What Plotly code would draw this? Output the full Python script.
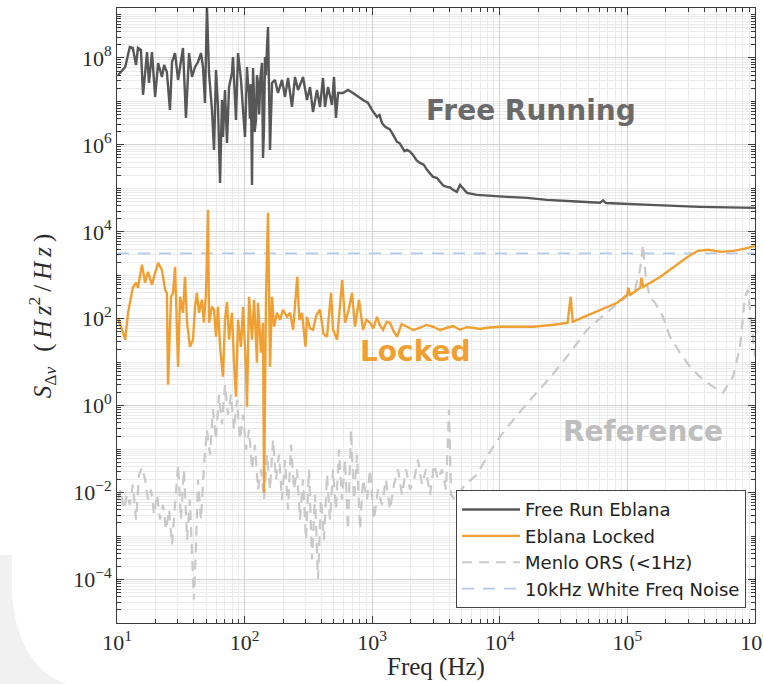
import plotly.graph_objects as go

# ---------------- data ----------------
free_f = [10.2, 11.6, 12.6, 13.3, 14.1, 14.6, 15.4, 16.0, 17.2, 17.8, 18.8, 19.9, 21.0, 22.5, 23.4,
          24.6, 26.0, 27.0, 28.5, 30.1, 32.9, 34.7, 36.7, 38.7, 40.9, 43.1, 45.5, 47.2, 48.9, 50.7,
          52.6, 55.5, 57.6, 59.7, 61.9, 64.2, 66.5, 67.7, 70.2, 72.8, 75.5, 79.6, 81.1, 85.6, 88.8,
          93.7, 97.2, 100.7, 102, 104.4, 106, 108.3, 110, 112, 114.3, 116.4, 118, 120, 122.8, 125,
          127.4, 130, 133, 136.9, 139.4, 142, 144.5, 147, 149.8, 152.6, 158.2, 164.0, 173.1, 182.7,
          196.4, 207.3, 218.9, 235.2, 248.3, 262.1, 281.7, 286.9, 308.3, 325.5, 343.6, 369.3, 389.9,
          411.6, 426.7, 450.5, 484.2, 502, 520, 540, 590, 646, 707, 774, 847, 927, 996, 1090, 1140,
          1193, 1250, 1306, 1370, 1430, 1500, 1564, 1640, 1712, 1790, 1874, 1980, 2088, 2230, 2369,
          2530, 2688, 2840, 2996, 3200, 3399, 3620, 3857, 4080, 4298, 4600, 4876, 5533, 6628, 8379,
          11390, 16340, 23440, 40000, 61000, 64400, 68000, 150400, 370700, 1000000]
free_s = [4.07e7, 6.21e7, 1.79e8, 1.70e8, 6.90e7, 1.70e8, 1.53e8, 1.41e7, 1.37e8, 2.66e7, 1.37e8,
          1.27e7, 7.67e7, 3.66e7, 6.90e7, 4.76e7, 6.38e6, 8.09e7, 1.30e8, 3.12e7, 1.70e8, 4.18e6,
          1.30e8, 3.66e7, 6.21e7, 8.09e7, 1.30e8, 6.21e7, 9.24e6, 1.5e9, 4.52e7, 6.38e6, 7.67e5,
          5.29e7, 7.48e6, 1.34e5, 1.08e7, 1.53e6, 1.84e7, 1.11e6, 2.15e7, 4.52e7, 1.05e8, 3.76e6,
          1.30e8, 3.12e7, 6.38e6, 1.53e6, 5.0e6, 6.21e7, 3.0e7, 1.57e7, 4.0e6, 2.5e7, 1.20e5,
          5.89e7, 2.0e7, 2.0e6, 3.76e6, 4.0e7, 2.66e7, 5.0e6, 3.5e7, 7.67e7, 5.02e5, 2.5e6, 1.05e8,
          4.0e7, 1.79e8, 5.16e8, 7.67e5, 2.66e7, 3.12e7, 1.57e7, 3.12e7, 1.27e7, 3.47e7, 7.48e6,
          3.66e7, 1.84e7, 3.12e7, 3.66e7, 1.08e7, 2.15e7, 5.74e6, 1.84e7, 7.48e6, 3.47e7, 7.48e6,
          2.15e7, 8.32e6, 3.66e7, 4.18e6, 1.57e7, 1.57e7, 1.84e7, 1.57e7, 1.27e7, 1.08e7, 9.24e6,
          6.38e6, 4.41e6, 4.9e6, 3.21e6, 2.7e6, 2.46e6, 2.3e6, 1.89e6, 1.5e6, 1.17e6, 1.1e6, 8.99e5,
          7.2e5, 7.67e5, 7.0e5, 5.89e5, 4.4e5, 3.86e5, 3.5e5, 2.66e5, 2.2e5, 1.84e5, 1.75e5, 1.41e5,
          1.15e5, 1.08e5, 1.05e5, 9.24e4, 8.3e4, 1.2e5, 7.89e4, 7.10e4, 6.73e4, 6.38e4, 6.05e4,
          5.45e4, 5.0e4, 4.65e4, 5.3e4, 4.6e4, 4.18e4, 3.76e4, 3.56e4]

lock_f = [10.2, 11.6, 12.2, 13.3, 14.1, 14.6, 15.7, 16.6, 17.5, 18.8, 19.9, 21.0, 22.5, 23.8, 24.6,
          25.1, 26.5, 27.5, 28.5, 29.5, 30.1, 31.2, 32.9, 34.1, 35.4, 37.3, 39.4, 40.9, 42.3, 43.9,
          46.3, 48.0, 49.8, 51.7, 52.6, 55.5, 57.6, 59.7, 61.9, 64.2, 67.7, 70.2, 72.8, 75.5, 79.6,
          82.6, 85.6, 88.8, 93.7, 97.2, 102.6, 104.4, 108.3, 114.3, 118.6, 125.0, 127.4, 134.4,
          139.4, 142.0, 147.2, 152.6, 158.2, 164.0, 170.0, 179.5, 189.5, 200.0, 215.4, 227.4, 240.0,
          258.6, 268.3, 281.7, 300, 308, 325, 343.6, 365, 389.9, 415, 442.6, 475.6, 493.6, 530.5,
          582, 613, 650, 695, 733, 788, 847, 900, 962, 1020, 1090, 1150, 1216, 1300, 1378, 1470,
          1564, 1700, 1874, 2100, 2369, 2650, 2996, 3400, 3857, 4300, 4876, 5500, 6160, 7000, 7940,
          10040, 13700, 18360, 26400, 34000, 35900, 37300, 45700, 61000, 83100, 99700, 101500,
          105200, 126300, 128600, 133300, 181700, 230300, 297300, 356900, 428600, 542000, 684300,
          884000, 1000000]
lock_s = [105, 32.9, 137, 516, 673, 516, 1743, 673, 1202, 605, 1140, 1936, 1337, 464, 396, 3.04, 321,
          396, 1567, 55.8, 7.89, 321, 137, 925, 80.9, 22.7, 32.9, 189, 396, 137, 273, 80.9, 396,
          32100, 80.9, 189, 161, 38.6, 189, 22.7, 4.64, 94.9, 246, 32.9, 137, 9.75, 1.61, 94.9, 22.7,
          189, 6.73, 0.948, 321, 32.9, 273, 9.75, 233, 16.5, 80.9, 0.01, 321, 27400, 7.89, 321, 65.5,
          137, 94.9, 161, 111, 137, 55.8, 925, 94.9, 137, 22.7, 111, 60, 55.8, 120, 161, 45, 38.6,
          396, 55.8, 32.9, 789, 80.9, 150, 396, 65.5, 273, 55.8, 95, 80.9, 60, 111, 70, 55.8, 85,
          80.9, 52, 38.6, 75, 65.5, 55, 62.1, 72, 65.5, 55, 62.1, 68, 55.8, 64, 62.1, 58, 62.1, 65.5,
          65.5, 65.5, 72.8, 80.9, 321, 85.3, 111, 161, 233, 356, 516, 356, 516, 877, 544, 925, 1567,
          2661, 3656, 3854, 3467, 3656, 4285, 4767]

ref_f = [10.2, 10.7, 11.3, 12.0, 12.6, 13.3, 14.1, 14.9, 15.7, 16.6, 17.5, 18.5, 19.5, 20.6, 21.7,
         22.9, 24.2, 25.6, 27.0, 28.5, 30.1, 31.7, 33.5, 35.4, 37.3, 38.7, 40.1, 41.6, 43.1, 45.5,
         48.1, 50.7, 53.6, 56.5, 59.7, 63.0, 66.5, 70.2, 74.1, 78.3, 82.6, 87.2, 92.0, 97.2, 102.6,
         108.3, 114.3, 120.6, 127.4, 134.4, 142.0, 149.8, 158.2, 167.0, 176.3, 186.1, 196.4, 207.3,
         218.9, 231.0, 243.9, 257.5, 271.8, 286.9, 302.8, 319.7, 337.5, 356.2, 376.0, 396.9, 419.1,
         442.4, 466.9, 492.9, 520.3, 549.3, 579.8, 612.1, 646.2, 682.2, 720.1, 760.2, 802.4, 847.1,
         910.4, 961.1, 1033, 1110, 1193, 1283, 1379, 1482, 1593, 1712, 1840, 1978, 2126, 2285, 2456,
         2640, 2838, 3050, 3279, 3524, 3788, 4000, 4147, 4457, 5338, 6628, 8379, 10040, 13150,
         18200, 24740, 33620, 48250, 73050, 99290, 114700, 125500, 132600, 139900, 150400, 164600,
         190100, 215800, 258400, 309600, 370700, 468700, 561400, 672200, 762800, 835000, 881600,
         947400, 1000000]
ref_s = [6.9e-3, 1.17e-2, 4.1e-3, 9.0e-3, 5.3e-3, 1.53e-2, 2.4e-3, 2.6e-2, 3.8e-2, 2.0e-2, 6.9e-3,
         1.17e-2, 3.1e-3, 9.0e-3, 2.4e-3, 5.3e-3, 1.41e-3, 4.1e-3, 6.4e-4, 6.9e-3, 4.4e-2, 2.4e-3,
         3.4e-2, 8.3e-4, 6.9e-3, 3.8e-4, 3.5e-5, 6.4e-4, 2.0e-2, 2.4e-3, 4.4e-2, 0.28, 7.5e-2, 0.81,
         0.165, 1.79, 0.37, 3.04, 0.62, 1.79, 0.28, 1.37, 0.165, 0.62, 9.7e-2, 0.28, 3.4e-2, 0.127,
         1.17e-2, 3.4e-2, 6.9e-3, 7.5e-2, 1.17e-2, 0.165, 2.0e-2, 7.5e-2, 6.9e-3, 5.7e-2, 4.1e-3,
         0.127, 1.17e-2, 3.4e-2, 2.4e-3, 2.0e-2, 8.3e-4, 3.4e-2, 2.9e-4, 9.0e-3, 1.05e-4, 6.9e-3,
         8.3e-4, 2.6e-2, 2.4e-3, 3.4e-2, 4.1e-3, 9.7e-2, 6.9e-3, 5.7e-2, 1.41e-3, 0.28, 6.9e-3,
         7.5e-2, 1.41e-3, 2.0e-2, 6.9e-3, 3.4e-2, 2.4e-3, 1.17e-2, 5.3e-3, 2.0e-2, 4.1e-3, 1.53e-2,
         3.4e-2, 9.0e-3, 3.4e-2, 1.17e-2, 2.0e-2, 5.7e-2, 1.53e-2, 3.4e-2, 9.0e-3, 4.4e-2, 2.0e-2,
         3.4e-2, 1.17e-2, 0.81, 9.0e-3, 6.9e-3, 1.53e-2, 2.6e-2, 8.8e-2, 0.194, 0.53, 1.61, 4.4, 13.4,
         55.8, 161, 321, 464, 1337, 5020, 789, 304, 233, 111, 38.6, 16.5, 7.9, 4.6, 2.7, 1.99, 4.6,
         22.7, 321, 464, 55.8, 13.4]

white_f = [10, 1000000]
white_s = [3183, 3183]

x_tickvals = [10, 100, 1000, 10000, 100000, 1000000]
x_ticktext = ["10<sup>1</sup>", "10<sup>2</sup>", "10<sup>3</sup>", "10<sup>4</sup>",
              "10<sup>5</sup>", "10<sup>6</sup>"]
y_tickvals = [1e-4, 1e-2, 1, 1e2, 1e4, 1e6, 1e8]
y_ticktext = ["10<sup>−4</sup>", "10<sup>−2</sup>", "10<sup>0</sup>", "10<sup>2</sup>",
              "10<sup>4</sup>", "10<sup>6</sup>", "10<sup>8</sup>"]

names = ["Free Run Eblana", "Eblana Locked", "Menlo ORS (<1Hz)", "10kHz White Freq Noise"]

# ---------------- figure ----------------
fig = go.Figure()
fig.add_trace(go.Scatter(x=white_f, y=white_s, mode="lines", name=names[3], legendrank=4,
                         line=dict(color="#b3c9ea", width=1.8, dash="12px,9px")))
fig.add_trace(go.Scatter(x=ref_f, y=ref_s, mode="lines", name=names[2], legendrank=3,
                         line=dict(color="#c9c9c9", width=2.2, dash="10px,7px")))
fig.add_trace(go.Scatter(x=free_f, y=free_s, mode="lines", name=names[0], legendrank=1,
                         line=dict(color="#575757", width=2.4)))
fig.add_trace(go.Scatter(x=lock_f, y=lock_s, mode="lines", name=names[1], legendrank=2,
                         line=dict(color="#f0a032", width=2.4)))

serif = "Liberation Serif, DejaVu Serif, serif"
axis_common = dict(
    type="log", showline=True, linecolor="#3a3a3a", linewidth=1, mirror="allticks",
    ticks="inside", ticklen=7, tickcolor="#3a3a3a", showgrid=True, gridcolor="#d2d2d2",
    gridwidth=1, zeroline=False, automargin=False, tickmode="array", ticklabeloverflow="allow",
    tickfont=dict(family=serif, size=22, color="#2a2a2a"),
    minor=dict(dtick="D1", ticks="inside", ticklen=4, tickcolor="#3a3a3a",
               showgrid=True, gridcolor="#ebebeb", gridwidth=1),
)
fig.update_xaxes(range=[1, 6], tickvals=x_tickvals, ticktext=x_ticktext, **axis_common)
fig.update_yaxes(range=[-5, 9.15], tickvals=y_tickvals, ticktext=y_ticktext, **axis_common)

ann_font = "DejaVu Sans"
ts = "\u2009"
fig.update_layout(
    width=763, height=684,
    margin=dict(l=117, r=8, t=8, b=61),
    paper_bgcolor="white", plot_bgcolor="white",
    showlegend=True,
    legend=dict(x=0.986, y=0.024, xanchor="right", yanchor="bottom",
                bgcolor="white", bordercolor="#444", borderwidth=1,
                font=dict(family="DejaVu Sans, sans-serif", size=18, color="#222"),
                tracegroupgap=0, itemwidth=58),
    shapes=[dict(type="path", xref="paper", yref="paper", layer="below",
                 path="M -0.1834,0.1106 L -0.1646,0.1106 L -0.1646,0.05 "
                      "C -0.16,-0.03 -0.13,-0.08 -0.08,-0.0992 L -0.1834,-0.0992 Z",
                 fillcolor="#f1f1f1", line=dict(width=0))],
    annotations=[
        dict(text="Free Running", x=4.245, y=6.80, xref="x", yref="y", showarrow=False,
             font=dict(family=ann_font, size=28, color="#6a6a6a", weight="bold")),
        dict(text="Locked", x=3.343, y=1.24, xref="x", yref="y", showarrow=False,
             font=dict(family=ann_font, size=28, color="#f0a032", weight="bold")),
        dict(text="Reference", x=5.122, y=-0.60, xref="x", yref="y", showarrow=False,
             font=dict(family=ann_font, size=28, color="#bdbdbd", weight="bold")),
        dict(text="<i>S</i><sub>Δ<i>ν</i></sub>" + ts * 3 + "(" + ts + "<i>H" + ts + "z</i><sup>2</sup>"
             + ts + "/" + ts + "<i>H" + ts + "z</i>" + ts + ")",
             x=-0.118, y=0.5, xref="paper", yref="paper", textangle=-90, showarrow=False,
             xanchor="center", yanchor="middle",
             font=dict(family=serif, size=25, color="#2a2a2a")),
        dict(text="Freq (Hz)", x=0.5, y=-0.071, xref="paper", yref="paper", showarrow=False,
             xanchor="center", yanchor="middle",
             font=dict(family=serif, size=25, color="#2a2a2a")),
    ],
)

fig.write_html("out.html")
